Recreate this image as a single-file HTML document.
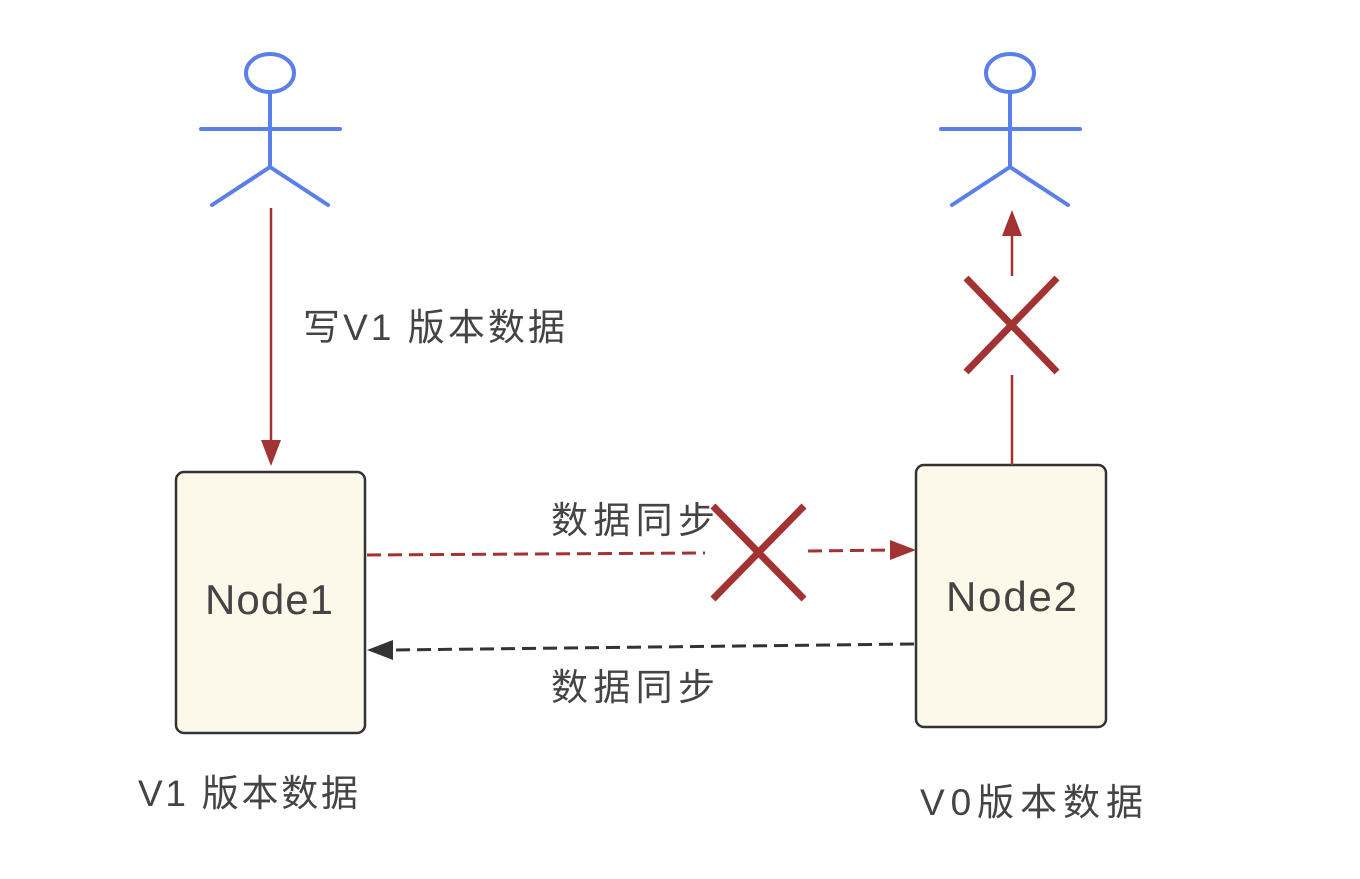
<!DOCTYPE html>
<html><head><meta charset="utf-8"><style>
html,body{margin:0;padding:0;background:#fff;}
svg{display:block;}
text{font-family:"Liberation Sans","Noto Sans CJK SC",sans-serif;fill:#444;}
</style></head><body>
<svg width="1360" height="879" viewBox="0 0 1360 879" xmlns="http://www.w3.org/2000/svg">
<g stroke="#5b7fe8" stroke-width="4" fill="none" stroke-linecap="round">
  <ellipse cx="270" cy="73" rx="24" ry="19"/>
  <line x1="270" y1="92" x2="270" y2="167"/>
  <line x1="201" y1="129" x2="340" y2="129"/>
  <polyline points="212,205 270,167 328,205"/>
  <ellipse cx="1010" cy="73" rx="24" ry="19"/>
  <line x1="1010" y1="92" x2="1010" y2="167"/>
  <line x1="941" y1="129" x2="1080" y2="129"/>
  <polyline points="952,205 1010,167 1068,205"/>
</g>
<rect x="176" y="472" width="189" height="261" rx="8" fill="#fcf8ea" stroke="#333" stroke-width="2.5"/>
<rect x="916" y="465" width="190" height="262" rx="8" fill="#fcf8ea" stroke="#333" stroke-width="2.5"/>
<g stroke="#a33333" stroke-width="2.5">
  <line x1="271" y1="208" x2="271" y2="442"/>
  <line x1="1012" y1="465" x2="1012" y2="375"/>
  <line x1="1012" y1="276" x2="1012" y2="235"/>
  <line x1="367" y1="555" x2="705" y2="553" stroke-width="3" stroke-dasharray="14,7"/>
  <line x1="808" y1="551" x2="892" y2="550" stroke-width="3" stroke-dasharray="14,7"/>
</g>
<polygon points="261,440 281,440 271,466" fill="#a33333"/>
<polygon points="1002,236 1022,236 1012,210" fill="#a33333"/>
<polygon points="890,540 890,560 916,550" fill="#a33333"/>
<line x1="914" y1="644" x2="392" y2="650" stroke="#333" stroke-width="3" stroke-dasharray="14,7"/>
<polygon points="393,640 393,660 367,650" fill="#333"/>
<g stroke="#a33333" stroke-width="7">
  <line x1="713" y1="506" x2="804" y2="599"/>
  <line x1="804" y1="506" x2="713" y2="599"/>
  <line x1="966" y1="278" x2="1057" y2="372"/>
  <line x1="1057" y1="278" x2="966" y2="372"/>
</g>
<text x="303" y="340" font-size="37" textLength="262" lengthAdjust="spacing">写V1 版本数据</text>
<text x="551" y="533" font-size="37" textLength="164" lengthAdjust="spacing">数据同步</text>
<text x="551" y="700" font-size="37" textLength="164" lengthAdjust="spacing">数据同步</text>
<text x="205" y="614" font-size="42" textLength="128" lengthAdjust="spacing">Node1</text>
<text x="946" y="611" font-size="42" textLength="131" lengthAdjust="spacing">Node2</text>
<text x="138" y="806" font-size="37" textLength="220" lengthAdjust="spacing">V1 版本数据</text>
<text x="920" y="815" font-size="37" textLength="223" lengthAdjust="spacing">V0版本数据</text>
</svg>
</body></html>
